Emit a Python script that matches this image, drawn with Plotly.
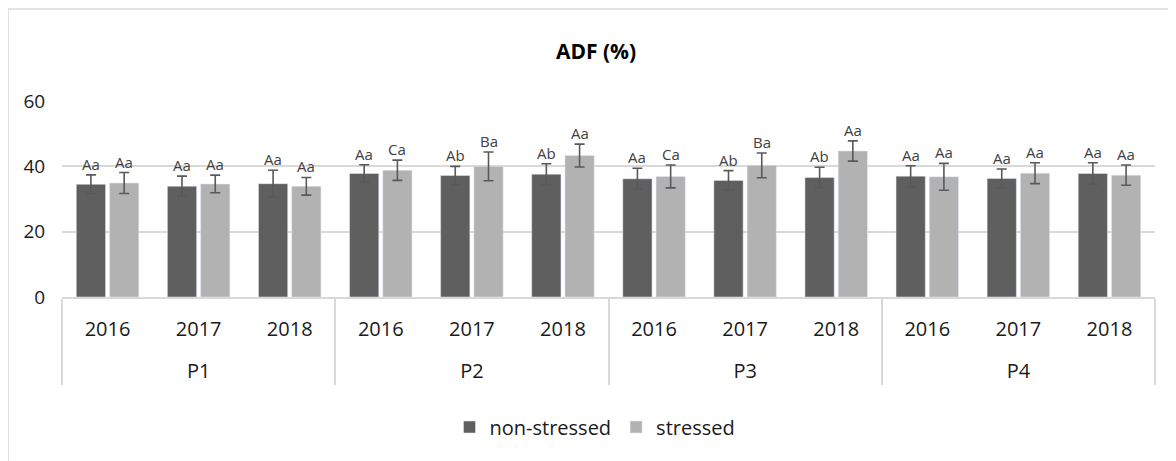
import plotly.graph_objects as go

plants = ["P1", "P2", "P3", "P4"]
years = ["2016", "2017", "2018"]

non_stressed = [34.5, 33.9, 34.7, 37.8, 37.2, 37.6, 36.2, 35.7, 36.6, 37.0, 36.3, 37.8]
non_stressed_err = [2.9, 3.1, 4.1, 2.7, 2.8, 3.2, 3.2, 3.0, 3.1, 3.2, 2.9, 3.3]
stressed = [34.9, 34.6, 33.9, 38.8, 40.0, 43.3, 36.9, 40.3, 44.7, 36.8, 37.9, 37.3]
stressed_err = [3.2, 2.7, 2.7, 3.1, 4.4, 3.5, 3.5, 3.8, 3.1, 4.1, 3.2, 3.1]

labels_ns = ["Aa", "Aa", "Aa", "Aa", "Ab", "Ab", "Aa", "Ab", "Ab", "Aa", "Aa", "Aa"]
labels_s = ["Aa", "Aa", "Aa", "Ca", "Ba", "Aa", "Ca", "Ba", "Aa", "Aa", "Aa", "Aa"]

x_outer = ["<br>" + p for p in plants for _ in years]
x_inner = [y for _ in plants for y in years]

FONT = "Open Sans"
OFF = 8  # page body margin
W, H = 1176, 461
# target absolute pixel positions of the plot area
PX0, PX1, PY0, PY1 = 62, 1155, 101, 297
L, T = PX0 - OFF, PY0 - OFF
R, B = W - (PX1 - OFF), H - (PY1 - OFF)
pw, ph = PX1 - PX0, PY1 - PY0


def px_to_paper_x(px):
    return (px - PX0) / pw


def px_to_paper_y(py):
    return (PY1 - py) / ph


fig = go.Figure()
err_style = dict(type="data", visible=True, color="#595959", thickness=1.6, width=5)
fig.add_trace(go.Bar(
    x=[x_outer, x_inner], y=non_stressed, name="non-stressed",
    marker=dict(color="#5f5f5f"),
    error_y=dict(array=non_stressed_err, **err_style),
))
fig.add_trace(go.Bar(
    x=[x_outer, x_inner], y=stressed, name="stressed",
    marker=dict(color="#b2b2b2"),
    error_y=dict(array=stressed_err, **err_style),
))

bargap = 0.27
slot = (1 - bargap) / 2
annotations = []
for i in range(len(non_stressed)):
    for off, val, err, lab in ((-slot / 2, non_stressed[i], non_stressed_err[i], labels_ns[i]),
                               (slot / 2, stressed[i], stressed_err[i], labels_s[i])):
        annotations.append(dict(
            x=i + off, y=val + err, xref="x", yref="y", text=lab,
            showarrow=False, yanchor="bottom", yshift=-1,
            font=dict(family=FONT, size=15, color="#404040"),
        ))

fig.update_layout(
    width=W, height=H,
    margin=dict(l=L, r=R, t=T, b=B, autoexpand=False),
    paper_bgcolor="white", plot_bgcolor="white",
    barmode="group", bargap=bargap, bargroupgap=0.12,
    font=dict(family=FONT, color="#1a1a1a"),
    title=dict(text="<b>ADF (%)</b>", xref="paper", x=px_to_paper_x(596), xanchor="center",
               yref="container", y=1 - (52 - OFF) / H, yanchor="middle",
               font=dict(family=FONT, size=21, color="#000000")),
    xaxis=dict(type="multicategory", showline=True, linecolor="#d9d9d9", linewidth=1.5,
               showdividers=True, dividercolor="#d9d9d9", dividerwidth=1.5,
               ticks="", ticklabelstandoff=13,
               tickfont=dict(family=FONT, size=20, color="#1a1a1a")),
    yaxis=dict(range=[0, 60], dtick=20, showgrid=True, gridcolor="#d9d9d9", gridwidth=1.5,
               zeroline=False, showline=False,
               ticks="outside", ticklen=12, tickcolor="rgba(0,0,0,0)",
               tickfont=dict(family=FONT, size=19, color="#1a1a1a")),
    legend=dict(orientation="h", x=px_to_paper_x(595), xanchor="center",
                y=px_to_paper_y(427), yanchor="middle",
                font=dict(family=FONT, size=20, color="#1a1a1a"),
                tracegroupgap=0),
    showlegend=True,
    annotations=annotations,
    shapes=[dict(type="rect", xref="paper", yref="paper",
                 x0=px_to_paper_x(8), x1=px_to_paper_x(W + 20),
                 y0=px_to_paper_y(H + 20), y1=px_to_paper_y(9),
                 line=dict(color="#d9d9d9", width=1.5), fillcolor="rgba(0,0,0,0)", layer="below")],
)

fig.write_html("out.html")
